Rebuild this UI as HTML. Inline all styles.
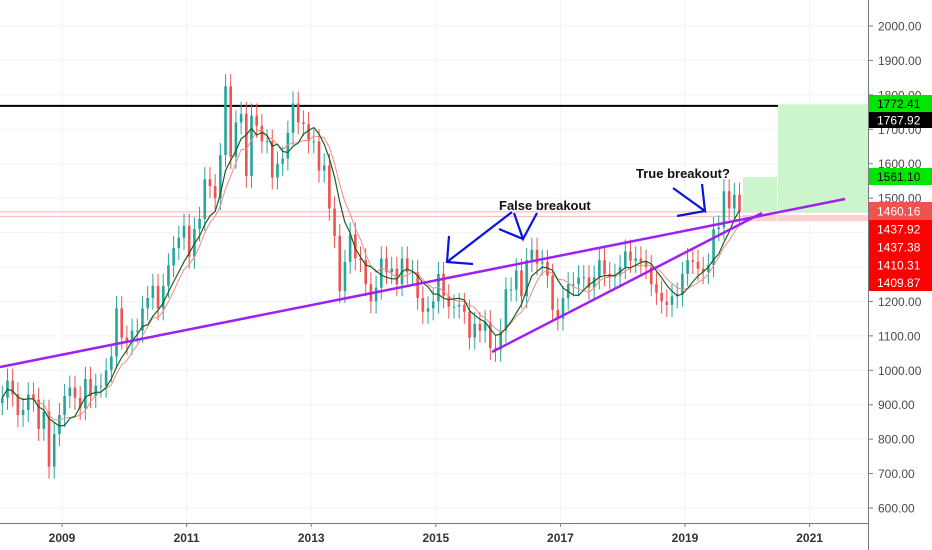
<!DOCTYPE html>
<html><head><meta charset="utf-8"><style>
body{margin:0;background:#fff;font-family:"Liberation Sans",sans-serif}
svg{display:block}
</style></head><body>
<svg id="chart" width="932" height="550" xmlns="http://www.w3.org/2000/svg">
<g id="grid"></g>
<g id="levels"></g>
<g id="zones"></g>
<g id="candles"></g>
<g id="mas"></g>
<g id="draw"></g>
<g id="axes"></g>
</svg>
<script>
const startYear = 2008;
const closes = [
920,970,930,870,885,930,915,830,880,720,815,870,
925,950,920,890,975,925,955,955,1000,1040,1180,1095,
1080,1115,1115,1180,1210,1245,1180,1245,1305,1355,1385,1420,
1330,1410,1440,1555,1535,1500,1625,1825,1620,1720,1745,1565,
1740,1710,1665,1665,1560,1600,1615,1690,1775,1720,1715,1665,
1665,1580,1595,1470,1390,1230,1315,1395,1325,1320,1250,1200,
1240,1325,1285,1295,1250,1325,1285,1285,1210,1170,1180,1200,
1280,1215,1185,1185,1190,1170,1095,1135,1115,1140,1065,1060,
1115,1235,1235,1290,1215,1320,1350,1310,1315,1275,1175,1150,
1210,1250,1250,1270,1270,1240,1270,1320,1280,1270,1275,1300,
1345,1318,1325,1315,1300,1250,1225,1200,1190,1215,1220,1280,
1320,1315,1295,1285,1305,1410,1415,1520,1470,1510,1462];
const priceTicks = [600,700,800,900,1000,1100,1200,1300,1400,1500,1600,1700,1800,1900,2000];
const yearTicks = [2009,2011,2013,2015,2017,2019,2021];
const labelValues = [1772.41,1767.92,1561.10,1460.16,1437.92,1437.38,1410.31,1409.87];

const NS="http://www.w3.org/2000/svg";
const plotR=868, plotB=523;
const y=p=>26+(2000-p)*0.3443;
const x=yr=>62+(yr-2009)*62.3;
function el(tag,attrs,parent,text){const e=document.createElementNS(NS,tag);for(const k in attrs)e.setAttribute(k,attrs[k]);if(text!==undefined)e.textContent=text;parent.appendChild(e);return e;}
const G=id=>document.getElementById(id);

priceTicks.forEach(p=>{const l=el('line',{x1:0,x2:plotR,y1:y(p),y2:y(p),stroke:'#f0f3fa','stroke-width':1},G('grid'));

});
yearTicks.forEach(t=>{const l=el('line',{x1:x(t),x2:x(t),y1:0,y2:plotB,stroke:'#f0f3fa','stroke-width':1},G('grid'));

});

[[1460.16,'#f5b5b4'],[1447,'#f5b5b4']].forEach(a=>{const l=el('line',{x1:0,x2:plotR,y1:y(a[0]),y2:y(a[0]),stroke:a[1],'stroke-width':1},G('levels'));

});
const bl=el('line',{x1:0,x2:plotR,y1:y(1767.92),y2:y(1767.92),stroke:'#000','stroke-width':2},G('levels'));



[[743,777,1561.10,1460],[778,868,1772.41,1460]].forEach(z=>{
const g1=el('rect',{x:z[0],y:y(z[2]),width:z[1]-z[0],height:y(z[3])-y(z[2]),fill:'#ccf5cc'},G('zones'));


const r1=el('rect',{x:z[0],y:y(z[3])+3,width:z[1]-z[0],height:y(1409.87)-y(z[3])-11,fill:'#fbd0d0'},G('zones'));

});

const cx=i=>x(startYear+i/12+1/24);
closes.forEach((c,i)=>{const o=i?closes[i-1]:905;const up=c>=o;const col=up?'#26a69a':'#ef5350';
const hi=Math.max(o,c)+35, lo=Math.min(o,c)-35;
const w=el('line',{x1:cx(i),x2:cx(i),y1:y(hi),y2:y(lo),stroke:col,'stroke-width':1},G('candles'));


const b=el('rect',{x:cx(i)-1.3,y:y(Math.max(o,c)),width:2.6,height:Math.max(1,Math.abs(y(o)-y(c))),fill:col},G('candles'));

});

function ma(n,color,w,name){let d='';closes.forEach((c,i)=>{const s=closes.slice(Math.max(0,i-n+1),i+1);const v=s.reduce((a,b)=>a+b,0)/s.length;d+=(i?'L':'M')+cx(i).toFixed(1)+','+y(v).toFixed(1);});
const p=el('path',{d:d,fill:'none',stroke:color,'stroke-width':w},G('mas'));

}
ma(8,'#f28b87',1,'slow-moving-average');
ma(6,'#1b5e20',1.2,'fast-moving-average');

const t1=el('line',{x1:0,y1:367,x2:845,y2:199,stroke:'#a020f0','stroke-width':2.5},G('draw'));


const t2=el('line',{x1:492,y1:352,x2:762,y2:213,stroke:'#a020f0','stroke-width':2.5},G('draw'));


const arrows=['M512,212L447,262M449,236L447,262L473,264','M514,213L523,239L537,213M499,229L523,239','M673,188L705,211L702,184M677,216L705,211'];
arrows.forEach(d=>{const p=el('path',{d:d,fill:'none',stroke:'#0a14e0','stroke-width':2.2},G('draw'));

});
const tx1=el('text',{x:499,y:210,'font-size':13,'font-weight':'bold',fill:'#111'},G('draw'),'False breakout');


const tx2=el('text',{x:636,y:178,'font-size':13,'font-weight':'bold',fill:'#111'},G('draw'),'True breakout?');



const ax=el('line',{x1:plotR+0.5,x2:plotR+0.5,y1:0,y2:550,stroke:'#787b86','stroke-width':1},G('axes'));


const bx=el('line',{x1:0,x2:plotR,y1:plotB+0.5,y2:plotB+0.5,stroke:'#787b86','stroke-width':1},G('axes'));


priceTicks.forEach(p=>{el('line',{x1:plotR,x2:plotR+5,y1:y(p),y2:y(p),stroke:'#787b86'},G('axes'));
const t=el('text',{x:878,y:y(p)+4.5,'font-size':12,fill:'#4a4a4a'},G('axes'),p.toFixed(2));

});
yearTicks.forEach(yr=>{el('line',{x1:x(yr),x2:x(yr),y1:plotB,y2:plotB+4,stroke:'#787b86'},G('axes'));
const t=el('text',{x:x(yr),y:542,'font-size':12,'font-weight':'bold',fill:'#333','text-anchor':'middle'},G('axes'),String(yr));

});
const boxes=[[95,17,'#00e600','#000'],[112,16,'#000','#fff'],[168,17,'#00e600','#000'],[202,18,'#ef5350','#fff'],[220,18,'#ff0000','#fff'],[238,18,'#ff0000','#fff'],[256,18,'#ff0000','#fff'],[274,17,'#ff0000','#fff']];
boxes.forEach((b,i)=>{const r=el('rect',{x:869,y:b[0],width:63,height:b[1],fill:b[2]},G('axes'));


const t=el('text',{x:877,y:b[0]+b[1]/2+4.5,'font-size':12,fill:b[3]},G('axes'),labelValues[i].toFixed(2));

});
</script>
</body></html>
